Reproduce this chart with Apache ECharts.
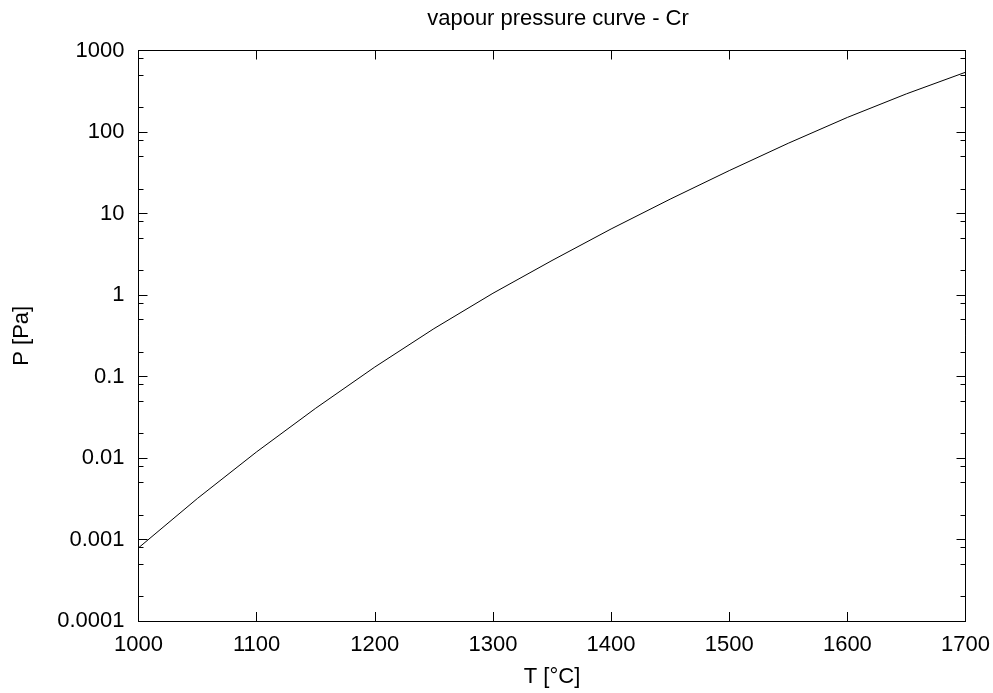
<!DOCTYPE html>
<html>
<head>
<meta charset="utf-8">
<title>vapour pressure curve - Cr</title>
<script src="https://cdn.jsdelivr.net/npm/echarts@6/dist/echarts.min.js"></script>
<style>
  html, body { margin: 0; padding: 0; background: #fff; }
  #chart { width: 993px; height: 693px; }
</style>
</head>
<body>
<div id="chart"></div>
<script>
// Temperature in °C
const temperatures = [1000, 1050, 1100, 1150, 1200, 1250, 1300, 1350, 1400, 1450, 1500, 1550, 1600, 1650, 1700];
// Vapour pressure of chromium in Pa
const pressures = [0.00079, 0.0032, 0.0119, 0.0408, 0.1306, 0.386, 1.05, 2.65, 6.46, 15.0, 33.6, 72.8, 151, 294, 541];

// Axis ticks
const xTicks = [1000, 1100, 1200, 1300, 1400, 1500, 1600, 1700];
const yTickValues = [0.0001, 0.001, 0.01, 0.1, 1, 10, 100, 1000];
const yTickLabels = ['0.0001', '0.001', '0.01', '0.1', '1', '10', '100', '1000'];
const yMinorMultipliers = [2, 5, 8];

const yMinorValues = [];
yTickValues.slice(0, -1).forEach(function (d) {
  yMinorMultipliers.forEach(function (m) { yMinorValues.push(+(d * m).toPrecision(3)); });
});

const FONT = 'Liberation Sans, Arial, Helvetica, sans-serif';
const FONT_SIZE = 22;
const INK = '#000';

function yLabel(v) {
  const k = Math.round(Math.log10(v));
  const i = yTickValues.findIndex(function (t) { return Math.round(Math.log10(t)) === k; });
  return i >= 0 ? yTickLabels[i] : '';
}

function logAxis(position, showLabels, values, tickLen) {
  return {
    type: 'log',
    logBase: 10,
    position: position,
    min: yTickValues[0],
    max: yTickValues[yTickValues.length - 1],
    splitLine: { show: false },
    axisLine: { show: true, onZero: false, lineStyle: { color: INK, width: 1 } },
    axisTick: { show: true, inside: true, length: tickLen, customValues: values, lineStyle: { color: INK, width: 1 } },
    axisLabel: {
      show: showLabels,
      customValues: yTickValues,
      formatter: yLabel,
      color: INK,
      fontFamily: FONT,
      fontSize: FONT_SIZE,
      margin: 14
    }
  };
}

const chart = echarts.init(document.getElementById('chart'), null, { renderer: 'canvas' });

const yAxes = [
  Object.assign(logAxis('left', true, yTickValues, 9), {
    name: 'P [Pa]',
    nameLocation: 'middle',
    nameGap: 106,
    nameTextStyle: { color: INK, fontFamily: FONT, fontSize: FONT_SIZE }
  }),
  logAxis('left', false, yMinorValues, 5),
  logAxis('right', false, yTickValues, 9),
  logAxis('right', false, yMinorValues, 5)
];

function xAxis(position, showLabels) {
  return {
    type: 'value',
    position: position,
    min: xTicks[0],
    max: xTicks[xTicks.length - 1],
    interval: 100,
    splitLine: { show: false },
    axisLine: { show: true, onZero: false, lineStyle: { color: INK, width: 1 } },
    axisTick: { show: true, inside: true, length: 9, lineStyle: { color: INK, width: 1 } },
    axisLabel: {
      show: showLabels,
      formatter: function (v) { return String(v); },
      color: INK,
      fontFamily: FONT,
      fontSize: FONT_SIZE,
      margin: 13
    }
  };
}

const bottomAxis = Object.assign(xAxis('bottom', true), {
  name: 'T [°C]',
  nameLocation: 'middle',
  nameGap: 45,
  nameTextStyle: { color: INK, fontFamily: FONT, fontSize: FONT_SIZE }
});

chart.setOption({
  animation: false,
  backgroundColor: '#fff',
  title: {
    text: 'vapour pressure curve - Cr',
    left: 553,
    textAlign: 'center',
    top: 3,
    textStyle: { color: INK, fontFamily: FONT, fontSize: FONT_SIZE, fontWeight: 'normal' }
  },
  grid: { left: 138.5, right: 25.3, top: 50.5, bottom: 70.3, containLabel: false },
  xAxis: [bottomAxis, xAxis('top', false)],
  yAxis: yAxes,
  series: [{
    type: 'line',
    xAxisIndex: 0,
    yAxisIndex: 0,
    data: temperatures.map(function (t, i) { return [t, pressures[i]]; }),
    showSymbol: false,
    lineStyle: { color: INK, width: 1 }
  }]
});
</script>
</body>
</html>
